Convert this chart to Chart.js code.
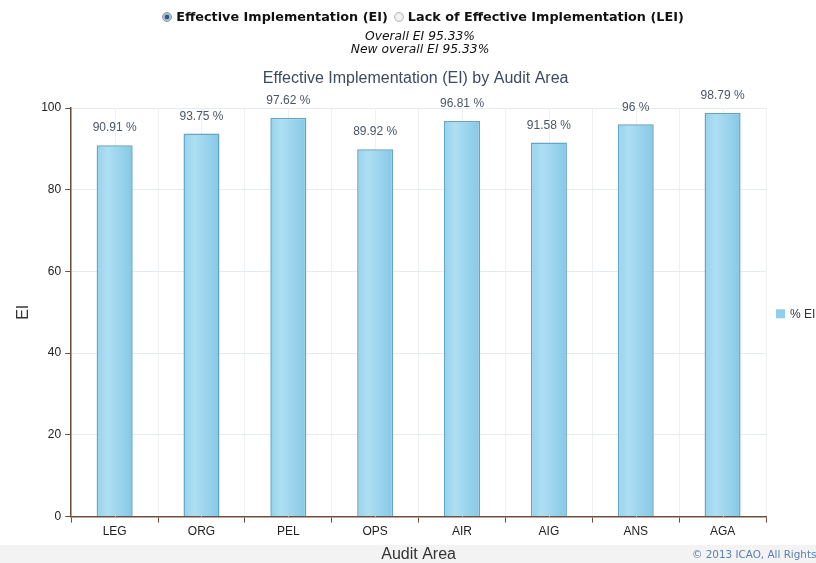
<!DOCTYPE html>
<html>
<head>
<meta charset="utf-8">
<script src="https://cdn.jsdelivr.net/npm/chart.js@4.4.1/dist/chart.umd.min.js"></script>
<style>
  body { margin: 0; width: 816px; height: 563px; overflow: hidden; background: #fff; position: relative; }
  #band { position: absolute; left: 0; top: 545px; width: 816px; height: 18px; background: #f3f3f3; }
  #chart { position: absolute; left: 0; top: 0; }
  .hdr { position: absolute; left: 12px; width: 816px; text-align: center; white-space: nowrap; color: #111; }
  #legendTop { top: 9px; font: bold 12.8px "DejaVu Sans", sans-serif; }
  .radio { display: inline-block; width: 8px; height: 8px; border-radius: 50%; vertical-align: -1px; margin: 0 4px 0 6px; }
  .radio.on { background: radial-gradient(circle, #2b5a8a 0 35%, #9fb4c8 45%, #dfe6ec 100%); border: 1px solid #8896a4; }
  .radio.off { background: radial-gradient(circle, #f4f4f4 0 40%, #d0d4d8 100%); border: 1px solid #b8bcc0; }
  .sub { font: italic 12.3px "DejaVu Sans", sans-serif; }
  #sub1 { top: 29px; }
  #sub2 { top: 42px; }
  #copy { position: absolute; left: 692px; top: 548px; font: 10.4px "DejaVu Sans", sans-serif; color: #5b7fb5; white-space: nowrap; }
</style>
</head>
<body>
<div id="band"></div>
<canvas id="chart" width="816" height="563"></canvas>
<div class="hdr" id="legendTop"><span class="radio on"></span>Effective Implementation (EI)<span class="radio off"></span>Lack of Effective Implementation (LEI)</div>
<div class="hdr sub" id="sub1">Overall EI 95.33%</div>
<div class="hdr sub" id="sub2">New overall EI 95.33%</div>
<div id="copy">© 2013 ICAO, All Rights Reserved</div>
<script>
const areas = ['LEG', 'ORG', 'PEL', 'OPS', 'AIR', 'AIG', 'ANS', 'AGA'];
const eiValues = [90.91, 93.75, 97.62, 89.92, 96.81, 91.58, 96, 98.79];
const yTicks = [0, 20, 40, 60, 80, 100];
const chartTitle = 'Effective Implementation (EI) by Audit Area';

const brown = '#6e4e3e';

function barFill(ctx) {
    const chart = ctx.chart;
    const xs = chart.scales.x;
    if (!xs || ctx.dataIndex === undefined) return '#9ad5ee';
    const cx = xs.getPixelForValue(ctx.dataIndex);
    const w = (xs.width / areas.length) * 0.415;
    if (!isFinite(cx) || !isFinite(w) || w <= 0) return '#9ad5ee';
    const g = chart.ctx.createLinearGradient(cx - w / 2, 0, cx + w / 2, 0);
    g.addColorStop(0, '#94d2ec');
    g.addColorStop(0.3, '#aedff3');
    g.addColorStop(1, '#85c8e6');
    return g;
}

const extras = {
    id: 'extras',
    beforeDatasetsDraw(chart) {
        const ctx = chart.ctx;
        const xs = chart.scales.x;
        const a = chart.chartArea;
        ctx.save();
        ctx.strokeStyle = '#eef0f4';
        ctx.lineWidth = 1;
        areas.forEach((n, i) => {
            const x = Math.round(xs.getPixelForValue(i)) + 0.5;
            ctx.beginPath();
            ctx.moveTo(x, a.top);
            ctx.lineTo(x, a.bottom);
            ctx.stroke();
        });
        ctx.restore();
    },
    afterDatasetsDraw(chart) {
        const ctx = chart.ctx;
        const meta = chart.getDatasetMeta(0);
        const a = chart.chartArea;
        ctx.save();
        ctx.font = '12px "Liberation Sans", Arial, sans-serif';
        ctx.fillStyle = '#4a5568';
        ctx.textAlign = 'center';
        ctx.textBaseline = 'middle';
        meta.data.forEach((bar, i) => {
            ctx.fillText(eiValues[i] + ' %', bar.x, bar.y - 17);
        });
        // chart title, centred over the plot area
        ctx.font = '16px "Liberation Sans", Arial, sans-serif';
        ctx.fillStyle = '#3d4a60';
        ctx.fillText(chartTitle, (a.left + a.right) / 2 - 3, 79);
        // legend on the right
        ctx.font = '12px "Liberation Sans", Arial, sans-serif';
        const ly = (a.top + a.bottom) / 2 + 1;
        ctx.fillStyle = '#8fcfea';
        ctx.fillRect(a.right + 10, ly - 4, 9, 9);
        ctx.fillStyle = '#333';
        ctx.textAlign = 'left';
        ctx.fillText(chart.data.datasets[0].label, a.right + 24, ly + 1);
        ctx.restore();
    }
};

new Chart(document.getElementById('chart'), {
    type: 'bar',
    data: {
        labels: areas,
        datasets: [{
            label: '% EI',
            data: eiValues,
            backgroundColor: barFill,
            borderColor: '#64a4c4',
            borderWidth: 1.5,
            borderSkipped: 'bottom',
            barPercentage: 0.415,
            categoryPercentage: 1
        }]
    },
    options: {
        responsive: false,
        devicePixelRatio: 1,
        animation: false,
        layout: { padding: { top: 108, right: 50, left: 14, bottom: 0 } },
        plugins: {
            legend: { display: false },
            tooltip: { enabled: false },
            title: { display: false }
        },
        scales: {
            x: {
                grid: { color: '#eef0f4', tickColor: brown, tickLength: 6, offset: true },
                border: { color: brown, width: 1.5 },
                ticks: { color: '#222', padding: 2, font: { family: '"Liberation Sans", Arial, sans-serif', size: 12 } },
                title: {
                    display: true, text: 'Audit Area', color: '#333',
                    font: { family: '"Liberation Sans", Arial, sans-serif', size: 16, lineHeight: 1 },
                    padding: { top: 6, bottom: 0 }
                }
            },
            y: {
                min: 0,
                max: 100,
                afterBuildTicks(scale) { scale.ticks = yTicks.map(v => ({ value: v })); },
                grid: { color: '#e6ebf0', tickColor: brown, tickLength: 6 },
                border: { color: brown, width: 1.5 },
                ticks: { color: '#222', padding: 4, font: { family: '"Liberation Sans", Arial, sans-serif', size: 12 } },
                title: {
                    display: true, text: 'EI', color: '#333',
                    font: { family: '"Liberation Sans", Arial, sans-serif', size: 16 },
                    padding: { top: 0, bottom: 4 }
                }
            }
        }
    },
    plugins: [extras]
});
</script>
</body>
</html>
